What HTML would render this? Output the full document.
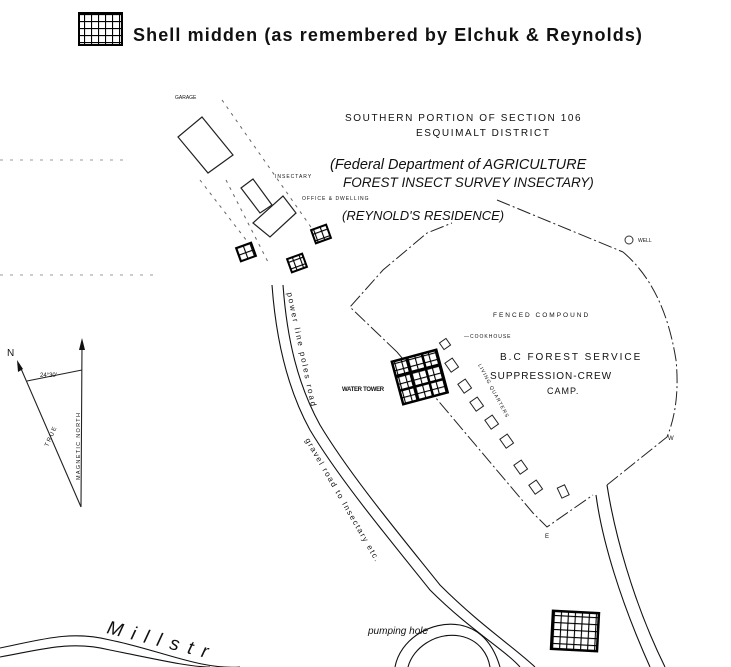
<!DOCTYPE html>
<html><head><meta charset="utf-8"><style>
html,body{margin:0;padding:0;background:#fff;width:731px;height:667px;overflow:hidden}
svg{display:block}
text{font-family:"Liberation Sans",sans-serif;fill:#111}
</style></head><body>
<svg width="731" height="667" viewBox="0 0 731 667" xmlns="http://www.w3.org/2000/svg">
<defs>
<pattern id="g" width="7" height="7" patternUnits="userSpaceOnUse"><rect width="7" height="7" fill="#fff"/><path d="M0 0H7M0 0V7" stroke="#000" stroke-width="2.2"/></pattern>
</defs>
<!-- legend -->
<rect x="79" y="13" width="43" height="32" fill="url(#g)" stroke="#000" stroke-width="2"/>
<text x="133" y="41" font-size="18" font-weight="bold" letter-spacing="1.1">Shell midden (as remembered by Elchuk &amp; Reynolds)</text>

<!-- title -->
<text x="345" y="121" font-size="10" letter-spacing="1.6">SOUTHERN PORTION OF SECTION 106</text>
<text x="416" y="136" font-size="10" letter-spacing="1.6">ESQUIMALT DISTRICT</text>
<text x="330" y="169" font-size="14.5" font-style="italic">(Federal Department of AGRICULTURE</text>
<text x="343" y="187" font-size="13.5" font-style="italic">FOREST INSECT SURVEY INSECTARY)</text>
<text x="342" y="220" font-size="13" font-style="italic">(REYNOLD'S RESIDENCE)</text>
<text x="175" y="99" font-size="5">GARAGE</text>
<text x="275" y="178" font-size="5" letter-spacing="1">INSECTARY</text>
<text x="302" y="200" font-size="5" letter-spacing="1">OFFICE &amp; DWELLING</text>

<!-- dotted lines left -->
<path d="M0 160H130M0 275H160" stroke="#999" stroke-width="1" stroke-dasharray="3 7"/>
<path d="M222 100L320 240M200 180L250 245M226 180L268 262" stroke="#666" stroke-width="1" stroke-dasharray="3 5"/>

<!-- buildings -->
<g fill="none" stroke="#222" stroke-width="1.2">
<path d="M178 137L202 117L233 155L208 173Z"/>
<path d="M241 188L253 179L272 205L260 213Z"/>
<path d="M253 223L283 196L296 213L270 237Z"/>
</g>
<!-- small middens -->
<rect x="238" y="245" width="16" height="14" fill="url(#g)" stroke="#000" stroke-width="2" transform="rotate(-20 246 252)"/>
<rect x="289" y="256" width="16" height="14" fill="url(#g)" stroke="#000" stroke-width="2" transform="rotate(-20 297 263)"/>
<rect x="313" y="227" width="16" height="14" fill="url(#g)" stroke="#000" stroke-width="2" transform="rotate(-20 321 234)"/>

<!-- roads -->
<g fill="none" stroke="#111" stroke-width="1.1">
<path d="M272 285C276 340 288 390 310 430C340 480 390 540 430 590C470 630 505 650 520 667"/>
<path d="M283 285C287 340 298 385 320 425C350 475 400 535 440 585C480 625 515 648 535 667"/>
<path d="M596 495C602 540 620 600 650 667"/>
<path d="M607 485C614 530 632 600 665 667"/>
<path d="M0 648C40 640 70 630 110 640C160 650 200 670 240 667"/>
<path d="M0 657C40 650 70 640 110 650C160 660 190 667 210 667"/>
<path d="M395 667C400 640 430 620 460 625C485 630 495 650 500 667"/>
<path d="M408 667C413 648 435 632 460 636C480 640 488 655 490 667"/>
</g>
<text x="0" y="0" font-size="8" letter-spacing="2" transform="translate(287 293) rotate(78)">power line poles road</text>
<text x="0" y="0" font-size="8" letter-spacing="1.5" transform="translate(305 440) rotate(60)">gravel road to Insectary etc.</text>
<text x="0" y="0" font-size="19" font-style="italic" letter-spacing="9" transform="translate(106 633) rotate(14)">Millstr</text>
<text x="368" y="634" font-size="10" font-style="italic">pumping hole</text>

<!-- fence -->
<g fill="none" stroke="#222" stroke-width="1" stroke-dasharray="14 3 2 3">
<path d="M397 352L350 307L383 270L427 233L452 223"/>
<path d="M497 200L623 252"/>
<path d="M623 252C650 275 668 310 676 360C680 400 672 425 667 437L607 485"/>
<path d="M397 352L533 513L547 527L593 495"/>
</g>
<circle cx="629" cy="240" r="4" fill="none" stroke="#333"/>
<text x="638" y="242" font-size="5">WELL</text>
<text x="545" y="538" font-size="6">E</text>
<text x="668" y="440" font-size="6">W</text>

<!-- camp labels -->
<text x="493" y="317" font-size="6.5" letter-spacing="2">FENCED COMPOUND</text>
<text x="500" y="360" font-size="10" letter-spacing="2">B.C FOREST SERVICE</text>
<text x="490" y="379" font-size="10" letter-spacing="1">SUPPRESSION-CREW</text>
<text x="547" y="394" font-size="9" letter-spacing="1">CAMP.</text>
<text x="464" y="338" font-size="5" letter-spacing="1">—COOKHOUSE</text>
<text x="0" y="0" font-size="5" letter-spacing="1" transform="translate(478 365) rotate(62)">LIVING QUARTERS</text>

<!-- cabins -->
<g fill="none" stroke="#222" stroke-width="1">
<rect x="447" y="360" width="9" height="11" transform="rotate(-35 451 365)"/>
<rect x="460" y="381" width="9" height="11" transform="rotate(-35 464 386)"/>
<rect x="472" y="399" width="9" height="11" transform="rotate(-35 476 404)"/>
<rect x="487" y="417" width="9" height="11" transform="rotate(-35 491 422)"/>
<rect x="502" y="436" width="9" height="11" transform="rotate(-35 506 441)"/>
<rect x="516" y="462" width="9" height="11" transform="rotate(-35 520 467)"/>
<rect x="531" y="482" width="9" height="11" transform="rotate(-35 535 487)"/>
<rect x="559" y="486" width="8" height="11" transform="rotate(-25 563 491)"/>
<rect x="441" y="340" width="8" height="8" transform="rotate(-35 445 344)"/>
</g>

<!-- water tower grid -->
<g transform="rotate(-15 420 378)">
<rect x="397" y="355" width="46" height="44" fill="url(#g)" stroke="#000" stroke-width="2.5"/>
<path d="M397 370H443M397 385H443M412 355V399M428 355V399" stroke="#000" stroke-width="2.5"/>
</g>
<text x="342" y="391" font-size="6" font-weight="bold" letter-spacing="-0.3">WATER TOWER</text>

<!-- bottom midden -->
<rect x="552" y="612" width="46" height="38" fill="url(#g)" stroke="#000" stroke-width="2.5" transform="rotate(3 575 631)"/>

<!-- compass -->
<g stroke="#222" stroke-width="1.1" fill="none">
<path d="M81 507L82 345M81 507L19 364M27 381L82 370"/>
</g>
<path d="M82 338L79 350H85Z" fill="#111"/>
<path d="M17 360L18 372L23 369Z" fill="#111"/>
<text x="7" y="356" font-size="10">N</text>
<text x="40" y="377" font-size="6">24°30'</text>
<text x="0" y="0" font-size="6" letter-spacing="1.5" transform="translate(48 447) rotate(-66)">TRUE</text>
<text x="0" y="0" font-size="5.5" letter-spacing="1.3" transform="translate(80 480) rotate(-90)">MAGNETIC NORTH</text>
</svg>
</body></html>
